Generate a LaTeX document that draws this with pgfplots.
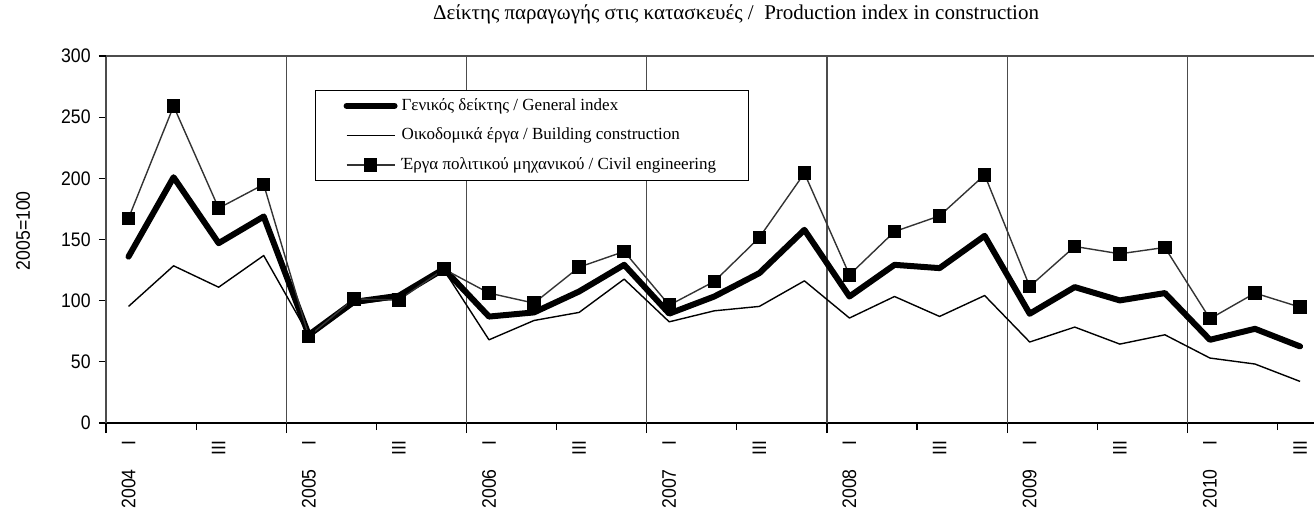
\documentclass[border=0pt]{standalone}
\usepackage{fontspec}
\setmainfont{Liberation Serif}
\newfontfamily\narrow[FakeStretch=0.9]{Liberation Sans}
\usepackage{pgfplots}
\pgfplotsset{compat=1.18}

% quarters 2004 I ... 2010 III, index 0..26
\pgfplotstableread{
q  gen    bld    civ
0  136    95.3   167.4
1  200.9  128.5  259
2  147    111    175.6
3  168.8  136.9  195
4  72     72     70.8
5  99     97     101.5
6  104    102    100.5
7  126    125    125.8
8  87     68     106.2
9  90.4   83.8   98
10 107.5  90.4   127.4
11 129.3  117.6  140.2
12 89.4   82.7   96.3
13 103.4  91.7   115.7
14 122.5  95.3   151.6
15 157.9  116.2  204.2
16 103.4  85.8   121.1
17 129.3  103.4  156.5
18 126.6  87.1   169.3
19 153    104.2  202.8
20 89.3   66.2   111.6
21 111.1  78.4   144.3
22 100.2  64.5   138.3
23 106.2  72.1   143.5
24 68     53.1   85.2
25 77     48.2   106.2
26 62.6   34     94.7
}\data

\begin{document}
\begin{tikzpicture}
\begin{axis}[
  name=ax,
  scale only axis, width=604bp, height=183.5bp,
  xmin=-0.5, xmax=26.31, ymin=0, ymax=300,
  axis x line*=bottom, axis y line*=left,
  axis line style={-},
  x axis line style={line width=1bp},
  y axis line style={line width=0.6bp},
  tick align=outside,
  major tick length=3.5bp,
  tick style={black, line width=0.6bp},
  ytick={0,50,...,300},
  xtick={-0.5,1.5,3.5,5.5,7.5,9.5,11.5,13.5,15.5,17.5,19.5,21.5,23.5,25.5},
  xticklabels={{\llap{2004\hspace{12bp}}I},III,{\llap{2005\hspace{12bp}}I},III,
    {\llap{2006\hspace{12bp}}I},III,{\llap{2007\hspace{12bp}}I},III,
    {\llap{2008\hspace{12bp}}I},III,{\llap{2009\hspace{12bp}}I},III,
    {\llap{2010\hspace{12bp}}I},III},
  xticklabel style={xshift=11.27bp, yshift=-5bp, rotate=90, anchor=east, inner sep=0pt,
    font=\narrow\fontsize{9.8bp}{11bp}\selectfont},
  yticklabel style={xshift=-4bp, inner sep=0pt, font=\narrow\fontsize{9.8bp}{11bp}\selectfont},
  /pgf/number format/assume math mode=true,
  extra x ticks={-0.5,3.5,7.5,11.5,15.5,19.5,23.5},
  extra x tick labels={},
  extra x tick style={grid=major, major tick length=5bp},
  extra y ticks={300}, extra y tick labels={},
  extra y tick style={grid=major},
  major grid style={black!70, line width=0.6bp},
  every axis y label/.style={at={(rel axis cs:-0.0687,0.524)}, rotate=90, anchor=center,
    font=\narrow\fontsize{9.8bp}{11bp}\selectfont},
  ylabel={2005=100},
  legend style={at={(0.173,0.908)}, anchor=north west, draw=black, line width=0.6bp,
    font=\fontsize{8.5bp}{10bp}\selectfont, inner xsep=14bp, inner ysep=2bp,
    row sep=3.3bp},
  legend cell align=left,
  legend image code/.code={\draw[mark repeat=2,mark phase=2,#1]
    plot coordinates {(0bp,0bp) (12bp,0bp) (24bp,0bp)};},
]
\addplot[black, line width=3bp, line join=round, line cap=round] table[x=q, y=gen] {\data};
\addlegendentry{Γενικός δείκτης / General index}
\addplot[black, line width=0.7bp, line join=round] table[x=q, y=bld] {\data};
\addlegendentry{Οικοδομικά έργα / Building construction}
\addplot[black!80, line width=0.7bp, mark=square*, mark size=3bp,
  mark options={solid, fill=black, draw=black}] table[x=q, y=civ] {\data};
\addlegendentry{Έργα πολιτικού μηχανικού / Civil engineering}
\end{axis}
\node[anchor=base, font=\fontsize{10.5bp}{12bp}\selectfont]
  at ([xshift=315bp, yshift=18.5bp]ax.north west) {Δείκτης παραγωγής στις κατασκευές /\ \ Production index in construction};
\pgfresetboundingbox
\useasboundingbox ([shift={(-53bp,-42.5bp)}]ax.south west) rectangle ([yshift=28bp]ax.north east);
\end{tikzpicture}
\end{document}
